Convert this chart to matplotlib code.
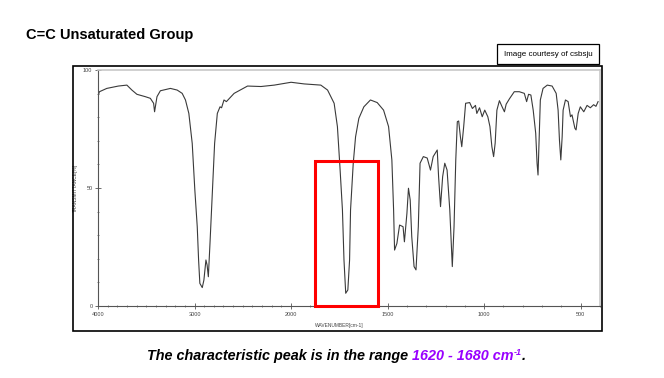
import numpy as np
import matplotlib
matplotlib.use("Agg")
import matplotlib.pyplot as plt
from matplotlib.patches import Rectangle
from matplotlib.ticker import FixedLocator, NullFormatter

plt.rcParams["font.family"] = ["Liberation Sans", "DejaVu Sans"]

# IR spectrum (wavenumber in cm-1, transmittance in %)
wavenumber = [
    4000, 3985, 3909, 3789, 3701, 3649, 3597, 3510, 3458, 3424, 3414, 3389,
    3354, 3250, 3180, 3128, 3094, 3059, 3024, 2997, 2972, 2958, 2945, 2920,
    2903, 2882, 2870, 2857, 2840, 2816, 2792, 2764, 2736, 2720, 2695, 2670,
    2590, 2451, 2312, 2174, 2000, 1932, 1846, 1811, 1777, 1760, 1747, 1734,
    1726, 1717, 1706, 1697, 1692, 1678, 1666, 1649, 1623, 1589, 1554, 1521,
    1495, 1478, 1469, 1464, 1452, 1438, 1420, 1413, 1400, 1392, 1383, 1375,
    1363, 1353, 1341, 1332, 1315, 1295, 1278, 1264, 1243, 1236, 1226, 1215,
    1204, 1192, 1178, 1165, 1156, 1147, 1139, 1132, 1123, 1116, 1106, 1096,
    1075, 1061, 1045, 1038, 1024, 1010, 997, 981, 970, 960, 951, 943, 934,
    921, 907, 895, 886, 869, 844, 818, 792, 780, 770, 758, 746, 733, 726,
    721, 716, 709, 695, 673, 648, 627, 617, 610, 603, 596, 591, 579, 565,
    553, 545, 530, 524, 513, 502, 484, 467, 450, 433, 421, 410,
]
transmittance = [
    89.0, 90.8, 92.2, 93.2, 93.6, 91.5, 89.7, 88.7, 88.0, 85.9, 82.3, 88.7,
    91.2, 92.2, 91.5, 90.1, 87.3, 81.6, 68.9, 49.2, 33.6, 19.5, 9.6, 7.8,
    11.0, 19.5, 17.4, 12.4, 26.5, 47.8, 68.9, 81.6, 84.4, 84.0, 87.3, 86.6,
    90.1, 93.2, 93.0, 93.6, 94.8, 94.1, 93.6, 91.5, 85.9, 76.0, 59.0, 40.7,
    19.5, 5.4, 6.8, 19.5, 40.7, 60.5, 71.7, 79.5, 84.4, 87.3, 86.2, 83.0,
    76.0, 61.9, 40.7, 23.7, 26.5, 34.3, 33.6, 27.2, 39.3, 49.9, 44.9, 29.4,
    16.7, 15.3, 33.6, 60.5, 63.3, 62.7, 57.6, 63.3, 66.1, 54.8, 42.1, 54.8,
    60.5, 57.6, 40.7, 16.7, 33.6, 61.9, 78.1, 78.4, 71.7, 67.5, 76.0, 85.9,
    86.2, 83.7, 85.0, 81.6, 84.0, 80.2, 83.0, 80.2, 76.0, 67.5, 63.3, 69.0,
    83.0, 87.0, 84.4, 82.3, 85.5, 87.8, 90.8, 90.8, 90.1, 86.6, 89.7, 89.4,
    83.0, 73.2, 60.5, 55.5, 68.9, 87.3, 92.2, 93.6, 93.2, 90.1, 83.0, 70.3,
    61.9, 71.7, 83.0, 87.3, 86.6, 80.2, 81.0, 75.3, 74.6, 81.6, 84.4, 82.3,
    85.0, 84.0, 85.3, 84.6, 86.6,
]

# highlighted region (red box)
box_wavenumber = (1876, 1549)
box_top = 61.4

major_ticks = [4000, 3000, 2000, 1500, 1000, 500]
tick_labels = ["4000", "3000", "2000", "1500", "1000", "500"]
ytick_vals = [0, 50, 100]


# IR chart scale: 1000 cm-1 per unit above 2000, 500 cm-1 per unit below
def forward(w):
    w = np.asarray(w, dtype=float)
    return np.where(w >= 2000, 2 + (w - 2000) / 1000, 2 + (w - 2000) / 500)


def inverse(p):
    p = np.asarray(p, dtype=float)
    return np.where(p >= 2, 2000 + (p - 2) * 1000, 2000 + (p - 2) * 500)


W, H = 664, 378
fig = plt.figure(figsize=(W / 100, H / 100), dpi=100)
fig.patch.set_facecolor("white")

# outer frame around the scanned spectrum
fig.add_artist(Rectangle((73 / W, 1 - 331 / H), (602 - 73) / W, (331 - 66) / H,
                         transform=fig.transFigure, fill=False,
                         edgecolor="black", linewidth=1.2))

ax = fig.add_axes([98 / W, 1 - 306 / H, 502 / W, 236 / H])
ax.set_xscale("function", functions=(forward, inverse))
ax.plot(wavenumber, transmittance, color="#3a3a3a", linewidth=0.8)
ax.set_xlim(4000, 400)
ax.set_ylim(0, 100)

for side in ["top", "right"]:
    ax.spines[side].set_color("#c8c8c8")
    ax.spines[side].set_linewidth(1.2)
for side in ["left", "bottom"]:
    ax.spines[side].set_color("#555555")
    ax.spines[side].set_linewidth(0.8)

minor_x = [w for w in range(4000, 399, -100) if w not in major_ticks]
ax.xaxis.set_major_locator(FixedLocator(major_ticks))
ax.xaxis.set_minor_locator(FixedLocator(minor_x))
ax.set_xticklabels(tick_labels)
ax.xaxis.set_minor_formatter(NullFormatter())
ax.set_yticks(ytick_vals)
ax.set_yticklabels(["0", "50", "100"])
ax.yaxis.set_minor_locator(FixedLocator(range(0, 101, 10)))
ax.tick_params(which="major", direction="inout", length=4, width=0.6,
               colors="#555555", labelsize=4, labelcolor="#444444", pad=2)
ax.tick_params(which="minor", direction="inout", length=2, width=0.5,
               colors="#555555")
ax.set_xlabel("WAVENUMBER[cm-1]", fontsize=3.5, color="#444444", labelpad=4)
ax.xaxis.set_label_coords(0.48, -0.07)
ax.set_ylabel("TRANSMITTANCE[%]", fontsize=3.5, color="#444444")
ax.yaxis.set_label_coords(-0.04, 0.5)

ax.add_patch(Rectangle((box_wavenumber[0], 0), box_wavenumber[1] - box_wavenumber[0],
                       box_top, fill=False, edgecolor="#ff0000", linewidth=2.2,
                       clip_on=False, zorder=5))

# credit box
fig.text(548 / W, 1 - 54 / H, "Image courtesy of csbsju", fontsize=5.8,
         ha="center", va="center",
         bbox=dict(boxstyle="square,pad=0.85", facecolor="white",
                   edgecolor="black", linewidth=0.9))

fig.text(26 / W, 1 - 35 / H, "C=C Unsaturated Group", fontsize=10.5,
         fontweight="bold", ha="left", va="center")

# caption with coloured range, laid out piece by piece
renderer = fig.canvas.get_renderer()
cap = dict(fontsize=10.4, fontweight="bold", fontstyle="italic", va="baseline")
x = 147
ybase = 1 - 360 / H
pieces = [
    ("The characteristic peak is in the range ", "black", 0, 10.4),
    ("1620 - 1680 cm", "#9900ff", 0, 10.4),
    ("-1", "#9900ff", 5, 6.5),
    (".", "black", 0, 10.4),
]
for text, color, rise, size in pieces:
    t = fig.text(x / W, ybase + rise / H, text, color=color,
                 **{**cap, "fontsize": size})
    x += t.get_window_extent(renderer).width

fig.savefig("out.png", dpi=100, facecolor="white")
